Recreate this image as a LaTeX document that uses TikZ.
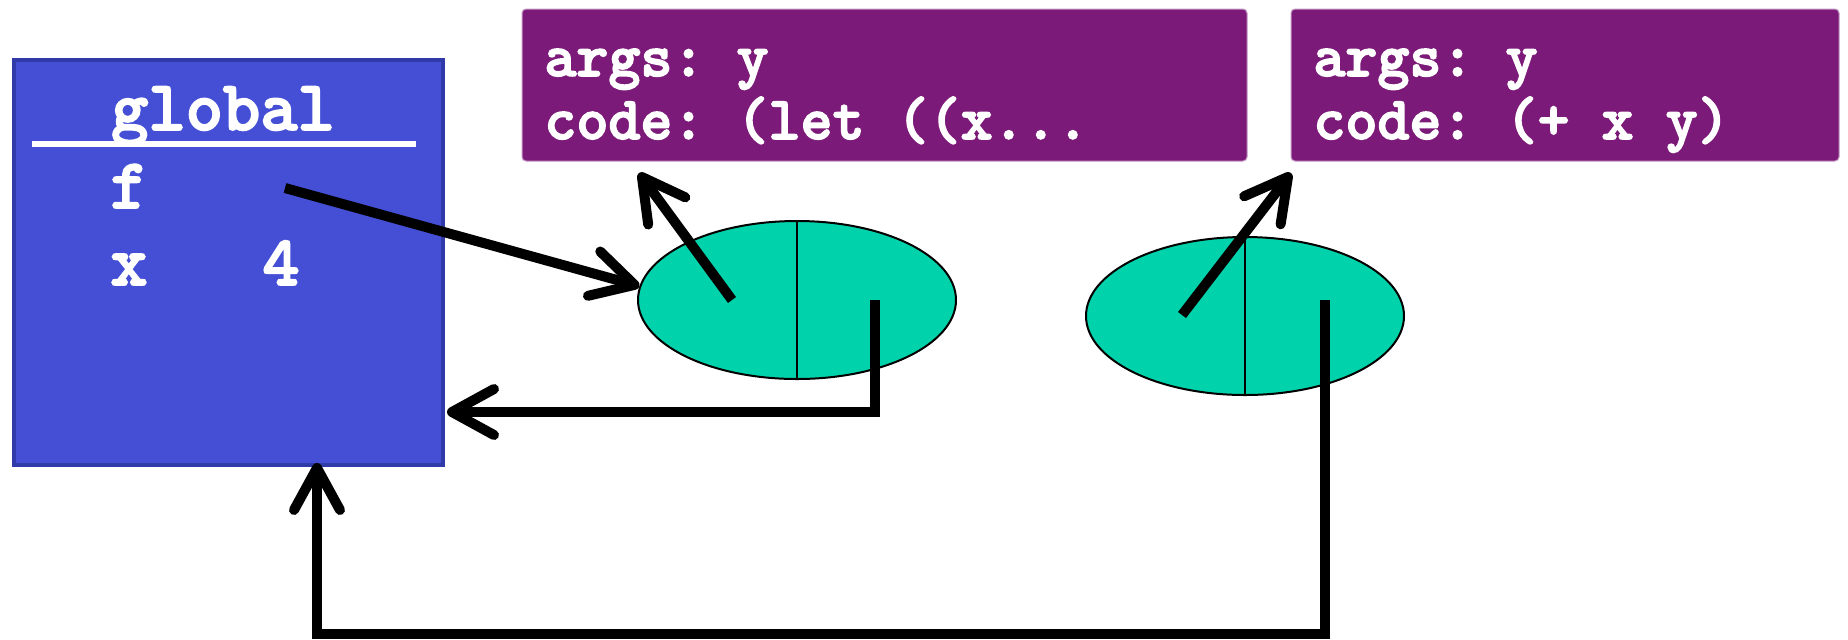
\documentclass[tikz,border=0pt]{standalone}
\usepackage{fontspec}
\newfontfamily\codefont{lmmonolt10-bold.otf}[FakeBold=2.5]
\usetikzlibrary{arrows.meta,shapes.geometric}
\definecolor{framefill}{RGB}{68,79,214}
\definecolor{frameedge}{RGB}{48,58,168}
\definecolor{procfill}{RGB}{0,211,172}
\definecolor{lamfill}{RGB}{123,26,120}
\definecolor{lamedge}{RGB}{196,150,196}
\frenchspacing

\begin{document}
\begin{tikzpicture}[x=0.5pt,y=-0.5pt,
framebox/.style={draw=frameedge, line width=2pt, fill=framefill, rectangle, minimum width=214.5pt, minimum height=202.5pt, inner sep=0pt},
lambox/.style={draw=lamedge, line width=0.5pt, fill=lamfill, rounded corners=2pt, minimum height=76pt, inner sep=0pt},
proc/.style={draw, line width=1pt, fill=procfill, ellipse, minimum width=159pt, minimum height=79pt, inner sep=0pt},
globtext/.style={text=white, inner sep=0pt, anchor=base west, font=\codefont\fontsize{35.5}{40}\selectfont},
codetext/.style={text=white, inner sep=0pt, anchor=base west, font=\codefont\fontsize{30.5}{34}\selectfont},
arrow/.style={-{Straight Barb[length=21pt,width=23pt,round]}, line width=5pt}
]
\useasboundingbox (0,0) rectangle (1848,639);
\node[framebox] (global) at (228.5,262.5) {};
\node[globtext, anchor=base] (gtitle) at (223,130) {global};
\draw[white, line width=3pt] (32,144) -- (416,144);
\node[globtext] (fname) at (110,208) {f};
\node[globtext] (xname) at (110,285) {x};
\node[globtext] (xval) at (262,285) {4};

\node[lambox, minimum width=362.5pt] (lam1) at (884.5,85) {};
\node[lambox, minimum width=274pt] (lam2) at (1565,85) {};
\node[codetext] (args1) at (544,76) {args: y};
\node[codetext] (code1) at (544,139) {code: (let ((x...};
\node[codetext] (args2) at (1313,76) {args: y};
\node[codetext] (code2) at (1313,139) {code: (+ x y)};

\node[proc] (proc1) at (797,300) {};
\node[proc] (proc2) at (1245,316) {};
\draw[line width=1pt] (proc1.north) -- (proc1.south);
\draw[line width=1pt] (proc2.north) -- (proc2.south);

\coordinate (fval) at (285,188);
\coordinate (p1code) at (732,300);
\coordinate (p1env) at (875,300);
\coordinate (p2code) at (1182,315);
\coordinate (p2env) at (1325,300);
\coordinate (c1tip) at (639,173);
\coordinate (c2tip) at (1291,173);
\coordinate (genv) at (447,412);
\coordinate (gtip) at (317,463);

\draw[arrow] (fval) -- (proc1.175);
\draw[arrow] (p1code) -- (c1tip);
\draw[arrow] (p2code) -- (c2tip);
\draw[arrow] (p1env) |- (genv);
\draw[arrow] (p2env) -- ++(0,334) -| (gtip);
\end{tikzpicture}
\end{document}
